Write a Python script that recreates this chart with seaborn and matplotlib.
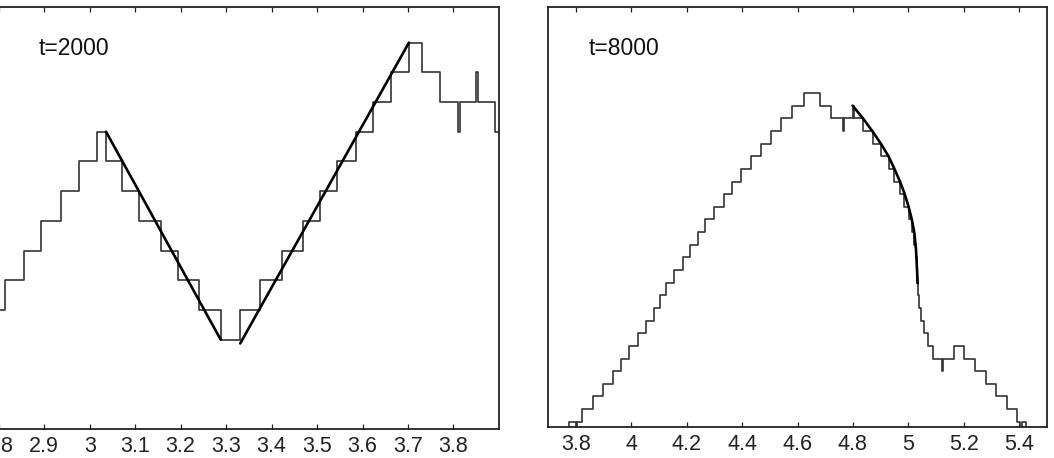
import matplotlib
matplotlib.use('Agg')
import matplotlib.pyplot as plt
import seaborn as sns

# t=2000 panel: step edge positions and the terrace level that starts there
x_2000 = [2.795, 2.814, 2.855, 2.894, 2.936, 2.977, 3.015, 3.036, 3.070, 3.109,
          3.156, 3.194, 3.240, 3.288, 3.331, 3.374, 3.423, 3.469, 3.507, 3.544,
          3.585, 3.623, 3.663, 3.702, 3.730, 3.771, 3.810, 3.815, 3.850, 3.855,
          3.892, 3.905]
h_2000 = [1, 2, 3, 4, 5, 6, 7, 6, 5, 4, 3, 2, 1, 0, 1, 2, 3, 4, 5, 6,
          7, 8, 9, 10, 9, 8, 7, 8, 9, 8, 7, 7]

# straight facets of the continuum profile
x_facet_a = [3.036, 3.288]
h_facet_a = [7, 0]
x_facet_b = [3.331, 3.702]
h_facet_b = [-0.13, 10.0]

ticks_2000 = [2.8, 2.9, 3.0, 3.1, 3.2, 3.3, 3.4, 3.5, 3.6, 3.7, 3.8]
labels_2000 = ['2.8', '2.9', '3', '3.1', '3.2', '3.3', '3.4', '3.5', '3.6', '3.7', '3.8']

# t=8000 panel
x_8000 = [3.695, 3.774, 3.801, 3.805, 3.821, 3.861, 3.899, 3.935, 3.964, 3.993,
          4.024, 4.053, 4.082, 4.105, 4.126, 4.155, 4.185, 4.213, 4.239, 4.266,
          4.298, 4.333, 4.365, 4.397, 4.431, 4.467, 4.505, 4.541, 4.581, 4.622,
          4.682, 4.721, 4.763, 4.769, 4.799, 4.803, 4.838, 4.871, 4.902, 4.929,
          4.950, 4.970, 4.986, 5.001, 5.013, 5.022, 5.027, 5.030, 5.032, 5.035,
          5.038, 5.045, 5.056, 5.070, 5.090, 5.121, 5.126, 5.166, 5.202, 5.241,
          5.282, 5.318, 5.358, 5.394, 5.404, 5.409, 5.424, 5.505]
h_8000 = [0, 1, 0, 1, 2, 3, 4, 5, 6, 7, 8, 9, 10, 11, 12, 13, 14, 15, 16, 17,
          18, 19, 20, 21, 22, 23, 24, 25, 26, 27, 26, 25, 24, 25, 26, 25, 24, 23, 22, 21,
          20, 19, 18, 17, 16, 15, 14, 13, 12, 11, 10, 9, 8, 7, 6, 5, 6, 7, 6, 5,
          4, 3, 2, 1, 0, 1, 0, 0]

# curved front of the continuum profile
x_front = [4.799, 4.838, 4.871, 4.902, 4.929, 4.950, 4.970, 4.986, 5.001, 5.013,
           5.022, 5.028, 5.031, 5.034]
h_front = [26.0, 24.95, 23.96, 22.96, 21.98, 21.0, 20.0, 19.08, 18.02, 16.97,
           15.92, 14.59, 13.27, 11.96]

ticks_8000 = [3.8, 4.0, 4.2, 4.4, 4.6, 4.8, 5.0, 5.2, 5.4]
labels_8000 = ['3.8', '4', '4.2', '4.4', '4.6', '4.8', '5', '5.2', '5.4']

sns.set_style('white')
plt.rcParams['font.family'] = ['Liberation Sans', 'DejaVu Sans']

fig = plt.figure(figsize=(10.54, 4.58), dpi=100)
ax1 = fig.add_axes([-0.0012, 0.064, 0.4746, 0.9207])
ax2 = fig.add_axes([0.5202, 0.067, 0.4729, 0.9177])

step_kw = dict(color='#333333', linewidth=1.2, drawstyle='steps-post',
               sort=False, estimator=None)
fit_kw = dict(color='black', linewidth=1.9, sort=False, estimator=None)

sns.lineplot(x=x_2000, y=h_2000, ax=ax1, **step_kw)
sns.lineplot(x=x_facet_a, y=h_facet_a, ax=ax1, **fit_kw)
sns.lineplot(x=x_facet_b, y=h_facet_b, ax=ax1, **fit_kw)

sns.lineplot(x=x_8000, y=h_8000, ax=ax2, **step_kw)
sns.lineplot(x=x_front, y=h_front, ax=ax2, **fit_kw)

ax1.set_xlim(2.8, 3.9)
ax1.set_ylim(-3.0, 11.2)
ax2.set_xlim(3.7, 5.5)
ax2.set_ylim(0.56, 33.8)

for ax, ticks, labels, txt in [(ax1, ticks_2000, labels_2000, 't=2000'),
                                (ax2, ticks_8000, labels_8000, 't=8000')]:
    ax.set_xticks(ticks)
    ax.set_xticklabels(labels)
    ax.set_yticks([])
    ax.set(xlabel='', ylabel='')
    ax.tick_params(axis='x', direction='in', length=3.6, width=0.9,
                   top=True, bottom=True, labelsize=15.5, pad=5, colors='#222222')
    for s in ax.spines.values():
        s.set_visible(True)
        s.set_color('#222222')
        s.set_linewidth(1.3)
    ax.text(0.080, 0.902, txt, transform=ax.transAxes, fontsize=16.5,
            ha='left', va='center', color='#111111')

fig.savefig('out.png', dpi=100)
